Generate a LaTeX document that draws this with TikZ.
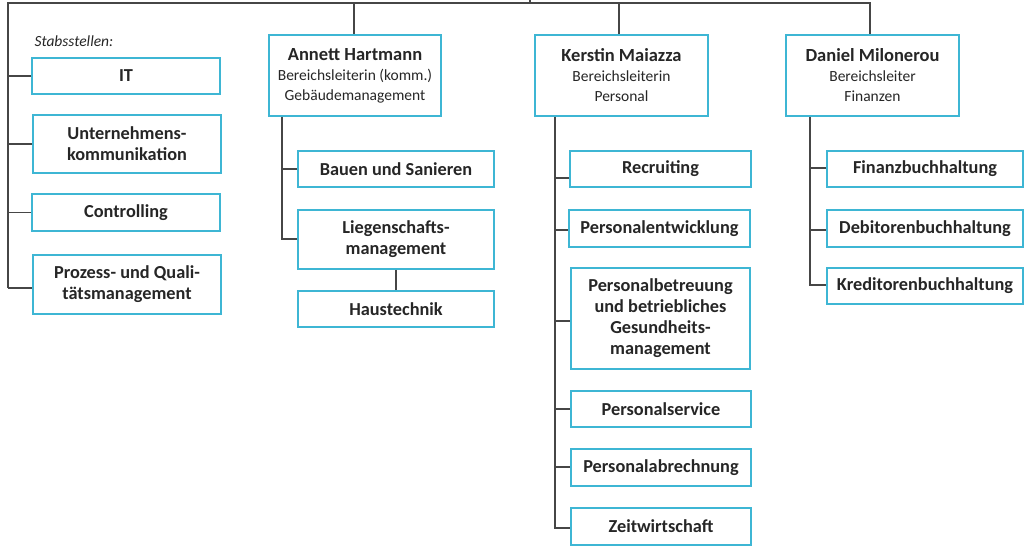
\documentclass[tikz,border=0pt]{standalone}
\usepackage{fontspec}
\setmainfont{Carlito}
\definecolor{boxblue}{RGB}{62,182,212}
\definecolor{linegray}{RGB}{70,70,70}
\definecolor{txt}{RGB}{38,38,38}
\tikzset{
  unit/.style={draw=boxblue, line width=1.6pt, fill=white, text=txt, align=center,
    inner sep=2pt, font=\fontsize{18.3}{21}\selectfont\bfseries},
  head/.style={draw=boxblue, line width=1.6pt, fill=white, text=txt, align=center,
    inner sep=2pt, minimum width=173pt, minimum height=81pt, font=\fontsize{15.5}{20}\selectfont},
  conn/.style={draw=linegray, line width=1.4pt},
}
\newcommand{\nameline}[1]{\fontsize{18.5}{20}\selectfont\bfseries #1\fontsize{15.5}{20}\selectfont\mdseries}
\begin{document}
\begin{tikzpicture}[x=1pt,y=-1pt]
\useasboundingbox (0,0) rectangle (1036,547);
% staff units
\node[anchor=west, text=txt, font=\fontsize{15.5}{18}\selectfont\itshape] (stab) at (31,41) {Stabsstellen:};
\node[unit, minimum width=188pt, minimum height=36pt] (it) at (126,76) {IT};
\node[unit, minimum width=188pt, minimum height=58pt] (uk) at (127,144) {Unternehmens-\\kommunikation};
\node[unit, minimum width=188pt, minimum height=37pt] (ctrl) at (126,212.5) {Controlling};
\node[unit, minimum width=188pt, minimum height=59pt] (pq) at (127,284.5) {Prozess- und Quali-\\tätsmanagement};
% heads
\node[head, minimum width=172pt] (ah) at (355,75.5) {\nameline{Annett Hartmann}\\Bereichsleiterin (komm.)\\Gebäudemanagement};
\node[head] (km) at (621.5,75.5) {\nameline{Kerstin Maiazza}\\Bereichsleiterin\\Personal};
\node[head] (dm) at (872.5,75.5) {\nameline{Daniel Milonerou}\\Bereichsleiter\\Finanzen};
% Gebaeude
\node[unit, minimum width=196pt, minimum height=36pt] (bs) at (396,169) {Bauen und Sanieren};
\node[unit, minimum width=196pt, minimum height=59pt] (lm) at (396,239.5) {Liegenschafts-\\management};
\node[unit, minimum width=196pt, minimum height=36pt] (ht) at (396,309) {Haustechnik};
% Personal
\node[unit, minimum width=181pt, minimum height=36pt] (rc) at (660.5,169) {Recruiting};
\node[unit, minimum width=181pt, minimum height=37pt] (pe) at (659.5,228.5) {Personalentwicklung};
\node[unit, minimum width=179pt, minimum height=101pt] (pb) at (660.5,318.5) {Personalbetreuung\\und betriebliches\\Gesundheits-\\management};
\node[unit, minimum width=180pt, minimum height=36pt] (ps) at (661,409) {Personalservice};
\node[unit, minimum width=180pt, minimum height=37pt] (pa) at (661,467.5) {Personalabrechnung};
\node[unit, minimum width=180pt, minimum height=37pt] (zw) at (661,526.5) {Zeitwirtschaft};
% Finanzen
\node[unit, minimum width=196pt, minimum height=36pt] (fb) at (925,169) {Finanzbuchhaltung};
\node[unit, minimum width=196pt, minimum height=37pt] (db) at (925,228.5) {Debitorenbuchhaltung};
\node[unit, minimum width=196pt, minimum height=36pt] (kb) at (925,286) {Kreditorenbuchhaltung};
% connectors
\coordinate (up) at (530,0);
\coordinate (tl) at (8,3);
\coordinate (tr) at (870,3);
\coordinate (lb) at (8,288);
\coordinate (ta) at (354,3);
\coordinate (tk) at (619,3);
\coordinate (ga) at (282,239);
\coordinate (gb) at (282,169);
\coordinate (pk) at (555,528);
\coordinate (fk) at (810,285);
\begin{scope}[conn]
\draw (up) -- (up |- tl);
\draw (lb) -- (tl) -- (tr) -- (tr |- dm.north);
\draw (ta) -- (ta |- ah.north);
\draw (tk) -- (tk |- km.north);
\draw (it.west) -- (it.west -| tl);
\draw (uk.west) -- (uk.west -| tl);
\draw (ctrl.west) -- (ctrl.west -| tl);
\draw (lb) -- (lb -| pq.west);
% Gebaeude
\draw (ga |- ah.south) -- (ga) -- (ga -| lm.west);
\draw (gb) -- (gb -| bs.west);
\draw (lm.south) -- (ht.north);
% Personal
\draw (pk |- km.south) -- (pk) -- (pk -| zw.west);
\foreach \yy/\nn in {178/rc,230/pe,321/pb,409/ps,467/pa}{
  \draw (555,\yy) -- (\nn.west |- 555,\yy);
}
% Finanzen
\draw (fk |- dm.south) -- (fk) -- (fk -| kb.west);
\foreach \yy/\nn in {168/fb,230/db}{
  \draw (810,\yy) -- (\nn.west |- 810,\yy);
}
\end{scope}
\end{tikzpicture}
\end{document}
